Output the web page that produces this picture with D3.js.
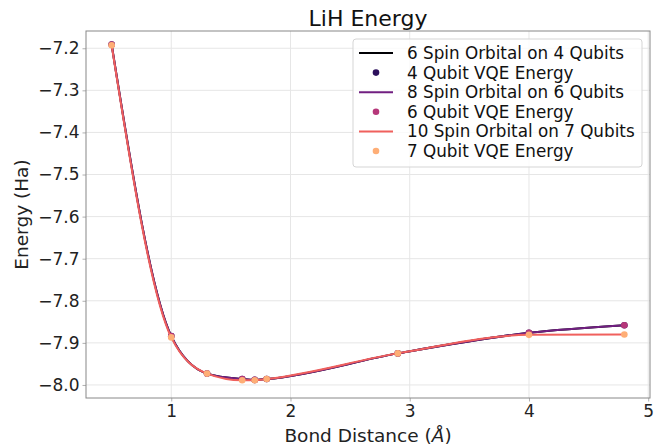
<!DOCTYPE html>
<html>
<head>
<meta charset="utf-8">
<script src="https://cdn.jsdelivr.net/npm/d3@7"></script>
<style>
  body { margin: 0; background: white; }
  text { font-family: "DejaVu Sans", sans-serif; }
</style>
</head>
<body>
<div id="viz_area"></div>
<script>
var width = 667
var height = 446

var margin = { top: 31, right: 17, bottom: 48, left: 86 }

// bond distances (Angstrom)
var bond = [0.5, 1.0, 1.3, 1.595, 1.7, 1.8, 2.9, 4.0, 4.8]
// energies (Ha)
var e4 = [-7.191, -7.884, -7.973, -7.986, -7.988, -7.986, -7.925, -7.876, -7.858]
var e6 = [-7.191, -7.884, -7.973, -7.986, -7.988, -7.986, -7.925, -7.876, -7.858]
var e7 = [-7.193, -7.887, -7.973, -7.989, -7.989, -7.986, -7.925, -7.881, -7.880]

var xTicks = [1, 2, 3, 4, 5]
var yTicks = [-7.2, -7.3, -7.4, -7.5, -7.6, -7.7, -7.8, -7.9, -8.0]

var series = [
  { line: "6 Spin Orbital on 4 Qubits", dots: "4 Qubit VQE Energy", vals: e4, lc: "#000004", dc: "#2c105c" },
  { line: "8 Spin Orbital on 6 Qubits", dots: "6 Qubit VQE Energy", vals: e6, lc: "#711f81", dc: "#b6377a" },
  { line: "10 Spin Orbital on 7 Qubits", dots: "7 Qubit VQE Energy", vals: e7, lc: "#f0605d", dc: "#feae76" }
]

var svg = d3.select("#viz_area")
  .append("svg")
  .attr("width", width)
  .attr("height", height)
  .style("background-color", "white")

var scX = d3.scaleLinear()
  .domain([0.285, 5.015])
  .range([margin.left, width - margin.right])

var scY = d3.scaleLinear()
  .domain([-8.031, -7.159])
  .range([height - margin.bottom, margin.top])

// grid
svg.append("g")
  .attr("stroke", "#e6e6e6")
  .attr("stroke-width", 1)
  .selectAll("line")
  .data(xTicks)
  .enter().append("line")
  .attr("x1", d => scX(d)).attr("x2", d => scX(d))
  .attr("y1", margin.top).attr("y2", height - margin.bottom)

svg.append("g")
  .attr("stroke", "#e6e6e6")
  .attr("stroke-width", 1)
  .selectAll("line")
  .data(yTicks)
  .enter().append("line")
  .attr("y1", d => scY(d)).attr("y2", d => scY(d))
  .attr("x1", margin.left).attr("x2", width - margin.right)

// axes
var xAx = svg.append("g")
  .attr("transform", `translate(0,${height - margin.bottom})`)
  .call(d3.axisBottom(scX).tickValues(xTicks).tickFormat(d3.format("d")).tickSize(3.5).tickPadding(3))
xAx.select(".domain").remove()

var yAx = svg.append("g")
  .attr("transform", `translate(${margin.left},0)`)
  .call(d3.axisLeft(scY).tickValues(yTicks).tickFormat(d => d3.format(".1f")(d).replace("-", "\u2212")).tickSize(3.5).tickPadding(3))
yAx.select(".domain").remove()

svg.selectAll(".tick line").attr("stroke", "#b0b0b0")
svg.selectAll(".tick text")
  .style("font-size", "17px")
  .style("font-family", "DejaVu Sans")
  .attr("fill", "#222")

// frame
svg.append("rect")
  .attr("x", margin.left)
  .attr("y", margin.top)
  .attr("width", width - margin.left - margin.right)
  .attr("height", height - margin.top - margin.bottom)
  .attr("fill", "none")
  .attr("stroke", "#888")
  .attr("stroke-width", 1)

// lines and dots
var makeLine = d3.line()
  .curve(d3.curveMonotoneX)
  .x(d => scX(d[0]))
  .y(d => scY(d[1]))

series.forEach(function (s) {
  var pts = bond.map((b, i) => [b, s.vals[i]])
  svg.append("path")
    .attr("fill", "none")
    .attr("stroke", s.lc)
    .attr("stroke-width", 2)
    .attr("d", makeLine(pts))
  svg.append("g")
    .selectAll("circle")
    .data(pts)
    .enter().append("circle")
    .attr("cx", d => scX(d[0]))
    .attr("cy", d => scY(d[1]))
    .attr("r", 3.3)
    .attr("fill", s.dc)
})

// title and labels
svg.append("text")
  .attr("x", (margin.left + width - margin.right) / 2)
  .attr("y", 26)
  .attr("text-anchor", "middle")
  .style("font-size", "22px")
  .attr("fill", "#111")
  .text("LiH Energy")

var xl = svg.append("text")
  .attr("x", (margin.left + width - margin.right) / 2)
  .attr("y", 442)
  .attr("text-anchor", "middle")
  .style("font-size", "18.5px")
  .attr("fill", "#222")
xl.append("tspan").text("Bond Distance (")
xl.append("tspan").style("font-style", "italic").text("\u00C5")
xl.append("tspan").text(")")

svg.append("text")
  .attr("transform", `translate(28,${(margin.top + height - margin.bottom) / 2}) rotate(-90)`)
  .attr("text-anchor", "middle")
  .style("font-size", "18.5px")
  .attr("fill", "#222")
  .text("Energy (Ha)")

// legend
var leg = svg.append("g").attr("transform", "translate(353,39)")
leg.append("rect")
  .attr("width", 289)
  .attr("height", 128)
  .attr("rx", 3)
  .attr("fill", "white")
  .attr("fill-opacity", 0.8)
  .attr("stroke", "#d5d5d5")

var entries = []
series.forEach(function (s) {
  entries.push({ label: s.line, kind: "line", c: s.lc })
  entries.push({ label: s.dots, kind: "dot", c: s.dc })
})

entries.forEach(function (e, i) {
  var y = 14 + i * 19.6
  if (e.kind == "line") {
    leg.append("line")
      .attr("x1", 6).attr("x2", 40)
      .attr("y1", y).attr("y2", y)
      .attr("stroke", e.c)
      .attr("stroke-width", 2)
  } else {
    leg.append("circle")
      .attr("cx", 23).attr("cy", y)
      .attr("r", 3.3)
      .attr("fill", e.c)
  }
  leg.append("text")
    .attr("x", 54)
    .attr("y", y)
    .attr("dy", "0.36em")
    .style("font-size", "16.8px")
    .attr("fill", "#111")
    .text(e.label)
})
</script>
</body>
</html>
